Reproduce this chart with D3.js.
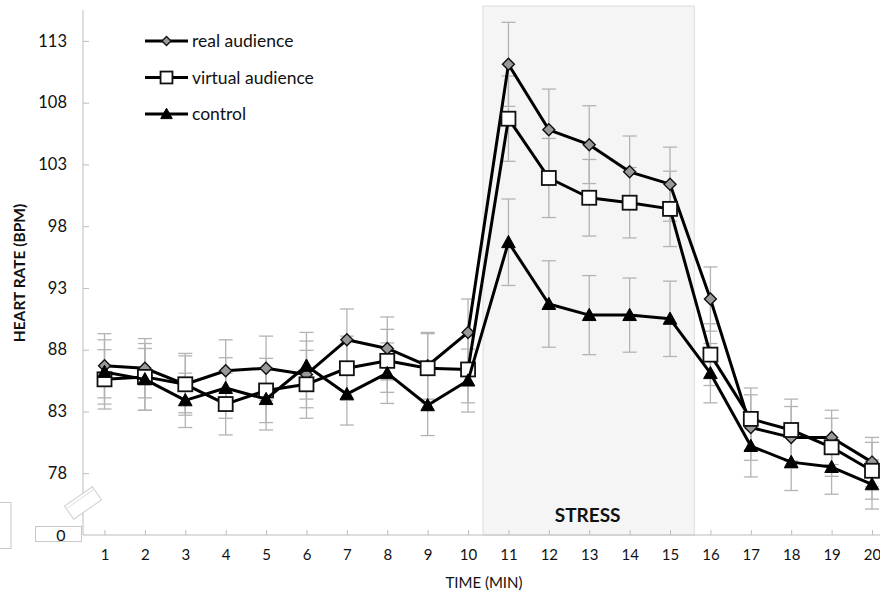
<!DOCTYPE html>
<html>
<head>
<meta charset="utf-8">
<script src="https://cdn.jsdelivr.net/npm/d3@7"></script>
<style>
  html, body { margin: 0; padding: 0; background: #fff; }
  svg { display: block; font-family: Lato, "Open Sans", sans-serif; }
</style>
</head>
<body>
<svg id="chart" width="880" height="597"></svg>
<script>
// heart rate per minute
const minutes = d3.range(1, 21);
const realAudience = [86.7, 86.5, 85.2, 86.3, 86.5, 86.0, 88.8, 88.1, 86.7, 89.4,
  111.1, 105.8, 104.6, 102.4, 101.4, 92.1, 81.7, 80.9, 80.9, 78.9];
const virtualAudience = [85.6, 85.8, 85.2, 83.6, 84.7, 85.2, 86.5, 87.1, 86.5, 86.4,
  106.7, 101.9, 100.3, 99.9, 99.4, 87.6, 82.4, 81.5, 80.1, 78.2];
const control = [86.2, 85.6, 83.9, 84.9, 84.0, 86.7, 84.4, 86.1, 83.5, 85.5,
  96.7, 91.7, 90.8, 90.8, 90.5, 86.1, 80.2, 78.9, 78.5, 77.1];
const realErr = [2.6, 2.4, 2.3, 2.5, 2.6, 2.7, 2.5, 2.55, 2.7, 2.7,
  3.4, 3.3, 3.15, 2.9, 3.0, 2.6, 2.65, 2.5, 2.2, 2.0];
const virtualErr = [2.4, 2.7, 2.5, 2.5, 2.6, 2.75, 2.6, 2.55, 2.8, 2.7,
  3.45, 3.2, 3.1, 2.85, 3.05, 2.5, 2.5, 2.5, 2.35, 2.3];
const controlErr = [2.6, 2.5, 2.2, 2.45, 2.5, 2.7, 2.5, 2.45, 2.45, 2.55,
  3.5, 3.5, 3.2, 3.0, 3.05, 2.4, 2.5, 2.3, 2.2, 2.0];
const yTicks = [78, 83, 88, 93, 98, 103, 108, 113];
const stressWindow = [10.37, 15.6];

(function () {
  const svg = d3.select("#chart");
  const AX = 83, AY = 535;

  const x = d3.scaleLinear().domain([1, 20]).range([104.5, 872]);
  const y = d3.scaleLinear().domain([73, 115.5]).range([AY, 10]);

  const series = [
    { name: "real audience", vals: realAudience, err: realErr, shape: "diamond" },
    { name: "virtual audience", vals: virtualAudience, err: virtualErr, shape: "square" },
    { name: "control", vals: control, err: controlErr, shape: "triangle" },
  ];

  // stress shading
  svg.append("rect")
    .attr("x", x(stressWindow[0])).attr("y", 6)
    .attr("width", x(stressWindow[1]) - x(stressWindow[0]))
    .attr("height", AY - 6)
    .attr("fill", "#f5f5f5").attr("stroke", "#dcdcdc").attr("stroke-width", 1);

  svg.append("text")
    .attr("x", (x(stressWindow[0]) + x(stressWindow[1])) / 2 - 1).attr("y", 522)
    .attr("text-anchor", "middle").attr("font-size", 19).attr("font-weight", "bold")
    .attr("fill", "#111").text("STRESS");

  // axes
  const yAxis = d3.axisLeft(y).tickValues(yTicks).tickSize(-6).tickPadding(16);
  const gy = svg.append("g").attr("transform", `translate(${AX},0)`).call(yAxis);
  gy.select(".domain").attr("stroke", "#bdbdbd").attr("d", `M0,10V${AY}`);
  gy.selectAll(".tick line").attr("stroke", "#bdbdbd");
  gy.selectAll(".tick text").attr("font-size", 16.5).attr("fill", "#111")
    .attr("font-family", "Lato, sans-serif");

  const xAxis = d3.axisBottom(x).tickValues(minutes).tickSize(-5).tickPadding(14);
  const gx = svg.append("g").attr("transform", `translate(0,${AY})`).call(xAxis);
  gx.select(".domain").attr("stroke", "#bdbdbd").attr("d", `M${AX},0H880`);
  gx.selectAll(".tick line").attr("stroke", "#bdbdbd");
  gx.selectAll(".tick text").attr("font-size", 15).attr("fill", "#111")
    .attr("font-family", "Lato, sans-serif");

  // axis break + the "0" box
  svg.append("rect")
    .attr("x", -17).attr("y", -8).attr("width", 34).attr("height", 16)
    .attr("transform", `translate(${AX},503) rotate(-35)`)
    .attr("fill", "#fff").attr("stroke", "#cfcfcf").attr("stroke-width", 1);
  svg.append("line")
    .attr("x1", -16).attr("x2", 16).attr("y1", -5).attr("y2", -5)
    .attr("transform", `translate(${AX},503) rotate(-35)`)
    .attr("stroke", "#e2e2e2");
  svg.append("rect").attr("x", 35.5).attr("y", 526.5).attr("width", 46).attr("height", 15)
    .attr("fill", "#fff").attr("stroke", "#c8c8c8");
  svg.append("text").attr("x", 61).attr("y", 541).attr("text-anchor", "middle")
    .attr("font-size", 16).attr("fill", "#111").text("0");
  svg.append("rect").attr("x", -1).attr("y", 502.5).attr("width", 12).attr("height", 46)
    .attr("fill", "none").attr("stroke", "#c8c8c8");

  // axis titles
  svg.append("text")
    .attr("transform", "translate(25,273) rotate(-90)")
    .attr("text-anchor", "middle").attr("font-size", 15.5).attr("font-weight", "bold")
    .attr("fill", "#111").text("HEART RATE (BPM)");
  svg.append("text").attr("x", 484).attr("y", 588).attr("text-anchor", "middle")
    .attr("font-size", 15).attr("fill", "#111").text("TIME (MIN)");

  // error bars
  const eb = svg.append("g").attr("stroke", "#b3b3b3").attr("stroke-width", 1.3);
  series.forEach((s) => {
    s.vals.forEach((v, i) => {
      const cx = x(minutes[i]);
      const y0 = y(v - s.err[i]), y1 = y(v + s.err[i]);
      eb.append("line").attr("x1", cx).attr("x2", cx).attr("y1", y0).attr("y2", y1);
      eb.append("line").attr("x1", cx - 7).attr("x2", cx + 7).attr("y1", y0).attr("y2", y0);
      eb.append("line").attr("x1", cx - 7).attr("x2", cx + 7).attr("y1", y1).attr("y2", y1);
    });
  });

  function drawMarker(g, shape, cx, cy, k) {
    if (shape === "diamond") {
      const r = 6 * k;
      g.append("path").attr("d", `M${cx},${cy - r}L${cx + r},${cy}L${cx},${cy + r}L${cx - r},${cy}Z`)
        .attr("fill", "#999").attr("stroke", "#111").attr("stroke-width", 1.4);
    } else if (shape === "square") {
      const h = 7 * k;
      g.append("rect").attr("x", cx - h).attr("y", cy - h).attr("width", 2 * h).attr("height", 2 * h)
        .attr("fill", "#fff").attr("stroke", "#111").attr("stroke-width", 1.8);
    } else {
      const h = 6.8 * k;
      g.append("path").attr("d", `M${cx},${cy - h}L${cx + h},${cy + h * 0.8}L${cx - h},${cy + h * 0.8}Z`)
        .attr("fill", "#000").attr("stroke", "#000").attr("stroke-width", 1);
    }
  }

  const line = d3.line().x((d, i) => x(minutes[i])).y((d) => y(d));
  series.forEach((s) => {
    const g = svg.append("g");
    g.append("path").attr("d", line(s.vals)).attr("fill", "none")
      .attr("stroke", "#000").attr("stroke-width", 3).attr("stroke-linejoin", "round");
    s.vals.forEach((v, i) => drawMarker(g, s.shape, x(minutes[i]), y(v), 1));
  });

  // legend
  const lg = svg.append("g");
  series.forEach((s, i) => {
    const ly = 41 + i * 36.5;
    lg.append("line").attr("x1", 145).attr("x2", 188).attr("y1", ly).attr("y2", ly)
      .attr("stroke", "#000").attr("stroke-width", 3);
    drawMarker(lg, s.shape, 166.5, ly, s.shape === "diamond" ? 0.75 : 0.85);
    lg.append("text").attr("x", 192).attr("y", ly + 6).attr("font-size", 17.5)
      .attr("fill", "#111").text(s.name);
  });
})();
</script>
</body>
</html>
